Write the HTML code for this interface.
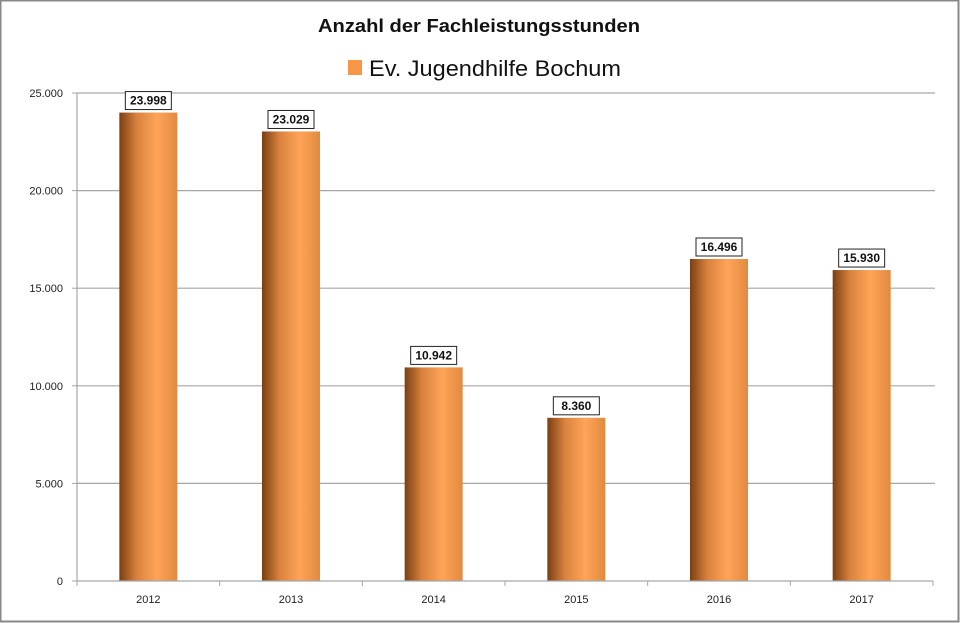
<!DOCTYPE html>
<html><head><meta charset="utf-8"><style>
html,body{margin:0;padding:0;background:#fff}
svg{display:block;font-family:"Liberation Sans",sans-serif}
</style></head><body>
<svg id="chart" width="960" height="623" viewBox="0 0 960 623" xmlns="http://www.w3.org/2000/svg">
<defs>
<linearGradient id="barGrad" x1="0" x2="1" y1="0" y2="0">
<stop offset="0" stop-color="#7a3f12"/>
<stop offset="0.3" stop-color="#d9823e"/>
<stop offset="0.65" stop-color="#ffa458"/>
<stop offset="1" stop-color="#e08a40"/>
</linearGradient>
</defs>
<rect x="0.5" y="0.5" width="958" height="621" fill="#fff" stroke="#888" stroke-width="2"/>
<text x="479" y="32" text-anchor="middle" font-size="18" font-weight="bold" fill="#111" textLength="322" lengthAdjust="spacingAndGlyphs">Anzahl der Fachleistungsstunden</text>
<rect x="348" y="60" width="14" height="15" fill="#f79646"/>
<text x="369" y="76" font-size="22" fill="#111" textLength="252" lengthAdjust="spacingAndGlyphs">Ev. Jugendhilfe Bochum</text>
<g id="grid"></g><g id="bars"></g><g id="axes"></g>
</svg>
<script>
const categories = ["2012","2013","2014","2015","2016","2017"];
const values = [23998,23029,10942,8360,16496,15930];
const valueLabels = ["23.998","23.029","10.942","8.360","16.496","15.930"];
const yTicks = [0,5000,10000,15000,20000,25000];
const yTickLabels = ["0","5.000","10.000","15.000","20.000","25.000"];
const NS="http://www.w3.org/2000/svg";
const L=77,R=933,T=93,B=581,yMax=25000;
const bw=(R-L)/categories.length;
const y=v=>B-(v/yMax)*(B-T);
const xc=i=>L+bw*(i+0.5);
function mk(tag,attrs,parent,text){const e=document.createElementNS(NS,tag);for(const k in attrs)e.setAttribute(k,attrs[k]);if(text!==undefined)e.textContent=text;parent.appendChild(e);return e;}
const grid=document.getElementById('grid'),bars=document.getElementById('bars'),axes=document.getElementById('axes');
yTicks.forEach((t,i)=>{
  if(t>0){const g=mk('line',{x1:L,x2:935,y1:y(t),y2:y(t),stroke:'#a6a6a6','stroke-width':1.2},grid);
  
  }
  const tk=mk('line',{x1:L-5,x2:L,y1:y(t),y2:y(t),stroke:'#a6a6a6'},axes);
  
  
  const lb=mk('text',{x:L-14,y:y(t)+4,'text-anchor':'end','font-size':11,fill:'#222'},axes,yTickLabels[i]);
  
  
});
categories.forEach((c,i)=>{
  const w=58,x=xc(i)-w/2,top=y(values[i]);
  const r=mk('rect',{x:x,y:top,width:w,height:B-top,fill:'url(#barGrad)'},bars);
  
  
  const lw=46,lh=18;
  const bx=mk('rect',{x:xc(i)-lw/2,y:top-lh-3,width:lw,height:lh,fill:'#fff',stroke:'#222','stroke-width':1},bars);
  
  
  const vt=mk('text',{x:xc(i),y:top-8,'text-anchor':'middle','font-size':12,'font-weight':'bold',fill:'#111'},bars,valueLabels[i]);
  
  
  const ct=mk('text',{x:xc(i),y:B+22,'text-anchor':'middle','font-size':11,fill:'#222'},axes,c);
  
  
});
for(let i=0;i<=categories.length;i++){
  const t=mk('line',{x1:L+bw*i,x2:L+bw*i,y1:B,y2:B+5,stroke:'#a6a6a6'},axes);
  
  
}
const ya=mk('line',{x1:L,x2:L,y1:T,y2:B,stroke:'#a6a6a6','stroke-width':1.2},axes);


const xa=mk('line',{x1:L,x2:R,y1:B,y2:B,stroke:'#a6a6a6','stroke-width':1.2},axes);


</script>
</body></html>
